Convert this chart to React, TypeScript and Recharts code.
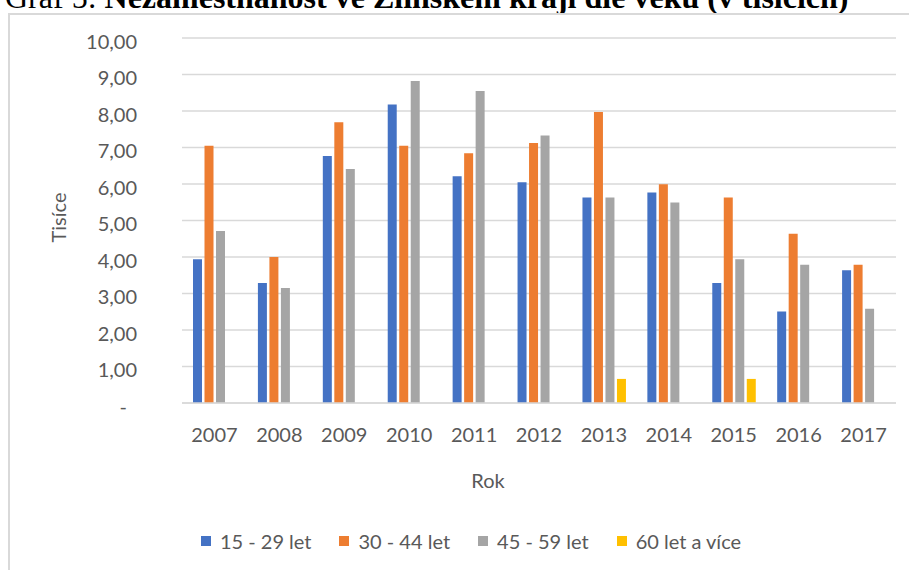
import { Bar, BarChart, CartesianGrid, Legend, XAxis, YAxis } from "recharts";

const years = ["2007", "2008", "2009", "2010", "2011", "2012", "2013", "2014", "2015", "2016", "2017"];
const age15to29 = [3.94, 3.29, 6.77, 8.18, 6.21, 6.05, 5.63, 5.77, 3.29, 2.51, 3.64];
const age30to44 = [7.05, 4.0, 7.69, 7.05, 6.84, 7.12, 7.97, 5.99, 5.63, 4.64, 3.79];
const age45to59 = [4.71, 3.15, 6.41, 8.82, 8.55, 7.33, 5.63, 5.49, 3.94, 3.79, 2.58];
const age60plus = [null, null, null, null, null, null, 0.66, null, 0.66, null, null];

const seriesKeys = ["a", "b", "c", "d"];
const seriesNames = ["15 - 29 let", "30 - 44 let", "45 - 59 let", "60 let a více"];
const seriesColors = ["#4472C4", "#ED7D31", "#A5A5A5", "#FFC000"];

const yTicks = [0, 1, 2, 3, 4, 5, 6, 7, 8, 9, 10];
const yTickLabels = ["-", "1,00", "2,00", "3,00", "4,00", "5,00", "6,00", "7,00", "8,00", "9,00", "10,00"];

const data = years.map((year, i) => ({
  year,
  a: age15to29[i],
  b: age30to44[i],
  c: age45to59[i],
  d: age60plus[i],
}));

const FONT = "Lato, 'Open Sans', sans-serif";
const TEXT = "#595959";

function YTick(props: any) {
  const { x, y, payload } = props;
  const label = yTickLabels[yTicks.indexOf(payload.value)];
  return (
    <text
      x={label === "-" ? x - 10 : x}
      y={y}
      dy={10.6}
      textAnchor="end"
      fontFamily={FONT}
      fontSize={20}
      fill={TEXT}
    >
      {label}
    </text>
  );
}

function XTick(props: any) {
  const { x, y, payload } = props;
  return (
    <text x={x} y={y} dy={38.7} textAnchor="middle" fontFamily={FONT} fontSize={20} fill={TEXT}>
      {payload.value}
    </text>
  );
}

function LegendContent() {
  return (
    <div
      style={{
        display: "flex",
        justifyContent: "center",
        alignItems: "center",
        fontFamily: FONT,
        fontSize: 20,
        color: TEXT,
        height: 30,
      }}
    >
      {seriesNames.map((name, i) => (
        <div key={name} style={{ display: "flex", alignItems: "center", marginLeft: i ? 28 : 0 }}>
          <span style={{ width: 10, height: 10, background: seriesColors[i], marginRight: 9 }} />
          <span>{name}</span>
        </div>
      ))}
    </div>
  );
}

export default function App() {
  return (
    <div
      style={{
        position: "absolute",
        left: 0,
        top: 0,
        width: 909,
        height: 570,
        overflow: "hidden",
        background: "#fff",
      }}
    >
      <svg width={909} height={20} style={{ position: "absolute", left: 0, top: 0 }}>
        <text x={5} y={8} fontFamily="'Liberation Serif', 'Times New Roman', serif" fontSize={32} fill="#000">
          <tspan>Graf 5: </tspan>
          <tspan fontWeight="bold">Nezaměstnanost ve Zlínském kraji dle věku (v tisících)</tspan>
        </text>
      </svg>
      <div
        style={{
          position: "absolute",
          left: 8,
          top: 13,
          width: 1000,
          height: 700,
          border: "2px solid #d9d9d9",
          boxSizing: "border-box",
        }}
      />
      <div style={{ position: "absolute", left: 0, top: 0 }}>
        <BarChart
          width={909}
          height={570}
          data={data}
          margin={{ top: 38, right: 13, left: 0, bottom: 37 }}
          barSize={9}
          barGap={2.5}
        >
          <CartesianGrid vertical={false} stroke="#d9d9d9" strokeWidth={1.5} />
          <YAxis
            width={182}
            domain={[0, 10]}
            ticks={yTicks}
            interval={0}
            axisLine={false}
            tickLine={false}
            tickSize={0}
            tickMargin={45}
            tick={<YTick />}
            label={{
              content: (p: any) => {
                const vb = p.viewBox;
                const cx = vb.x + 58;
                const cy = vb.y + vb.height / 2 - 3;
                return (
                  <text
                    x={cx}
                    y={cy}
                    transform={`rotate(-90 ${cx} ${cy})`}
                    textAnchor="middle"
                    dominantBaseline="central"
                    fontFamily={FONT}
                    fontSize={20}
                    fill={TEXT}
                  >
                    Tisíce
                  </text>
                );
              },
            }}
          />
          <XAxis
            dataKey="year"
            height={100}
            interval={0}
            axisLine={{ stroke: "#d9d9d9", strokeWidth: 1.5 }}
            tickLine={false}
            tickSize={0}
            tickMargin={0}
            tick={<XTick />}
            label={{
              content: (p: any) => {
                const vb = p.viewBox;
                return (
                  <text
                    x={vb.x + 306}
                    y={vb.y + 85}
                    textAnchor="middle"
                    fontFamily={FONT}
                    fontSize={20}
                    fill={TEXT}
                  >
                    Rok
                  </text>
                );
              },
            }}
          />
          <Legend
            verticalAlign="bottom"
            height={30}
            content={<LegendContent />}
            wrapperStyle={{ left: 186, width: 570, bottom: 14 }}
          />
          {seriesKeys.map((k, i) => (
            <Bar key={k} dataKey={k} name={seriesNames[i]} fill={seriesColors[i]} isAnimationActive={false} />
          ))}
        </BarChart>
      </div>
    </div>
  );
}
